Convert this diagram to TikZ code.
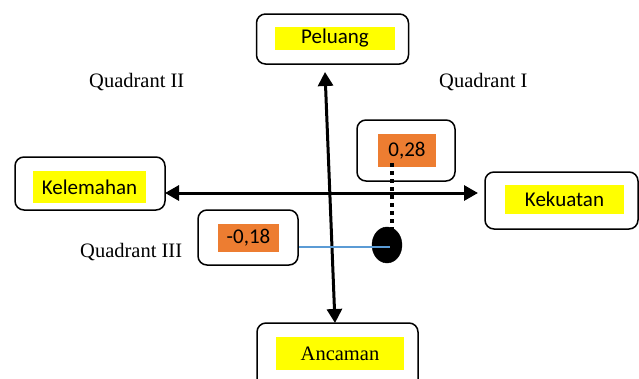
\documentclass[tikz,border=0pt]{standalone}
\usepackage{fontspec}
\setmainfont{Liberation Serif}
\newfontfamily\calibrilike{Carlito}
\usetikzlibrary{arrows.meta,shapes.geometric}
\definecolor{markyellow}{HTML}{FFFF00}
\definecolor{valorange}{HTML}{ED7D31}
\definecolor{guideblue}{HTML}{5B9BD5}
\tikzset{
  frame/.style={draw=black, line width=1.5pt, rounded corners=9pt, fill=white, inner sep=0pt},
  tag/.style={fill=markyellow, inner sep=0pt, font=\calibrilike\fontsize{21}{24}\selectfont},
  serifTag/.style={fill=markyellow, inner sep=0pt, font=\fontsize{20.5}{24}\selectfont},
  valtag/.style={fill=valorange, inner sep=0pt, font=\calibrilike\fontsize{21}{24}\selectfont},
  quad/.style={anchor=base west, inner sep=0pt, font=\fontsize{20.5}{24}\selectfont},
  axis/.style={line width=3pt, {Triangle[length=14pt,width=15pt]}-{Triangle[length=14pt,width=15pt]}},
}
\begin{document}
\begin{tikzpicture}[x=1pt,y=-1pt]
\useasboundingbox (0,0) rectangle (639,378);
\clip (0,0) rectangle (639,378);

% outer frames of the four directions
\node[frame, minimum width=152pt, minimum height=50pt] (peluang) at (332.5,39) {};
\node[frame, minimum width=150pt, minimum height=53pt] (kelemahan) at (90,183.5) {};
\node[frame, minimum width=153pt, minimum height=57pt] (kekuatan) at (561.5,200.5) {};
\node[frame, minimum width=161pt, minimum height=80pt] (ancaman) at (337.5,363) {};

% highlighted labels
\node[tag, minimum width=120pt, minimum height=23pt] (peluangtxt) at (335,38.5) {Peluang};
\node[tag, minimum width=113pt, minimum height=32pt] (kelemahantxt) at (89.5,187) {Kelemahan};
\node[tag, minimum width=119pt, minimum height=29pt] (kekuatantxt) at (564.5,199.5) {Kekuatan};
\node[serifTag, minimum width=128pt, minimum height=33pt] (ancamantxt) at (340,353.5) {Ancaman};

% axes
\coordinate (xl) at (165,193);
\coordinate (xr) at (478,193);
\coordinate (yt) at (325,72);
\coordinate (yb) at (335,323);
\draw[axis] (xl) -- (xr);
\draw[axis] (yt) -- (yb);

% value boxes
\node[frame, minimum width=98pt, minimum height=61pt] (pos) at (406,150.5) {};
\node[valtag, minimum width=58pt, minimum height=33pt] (postxt) at (407,150.5) {0,28};
\node[frame, minimum width=100pt, minimum height=55pt] (neg) at (248,237.5) {};
\node[valtag, minimum width=61pt, minimum height=28pt] (negtxt) at (248.5,238) {-0,18};

% position marker
\coordinate (dtop) at (392,163);
\coordinate (dbot) at (392,230);
\draw[line width=4pt, dash pattern=on 4pt off 4pt] (dtop) -- (dbot);
\node[draw=black, fill=black, ellipse, minimum width=30pt, minimum height=36pt, inner sep=0pt] (dot) at (387,245) {};
\coordinate (dotc) at (390,247);
\draw[guideblue, line width=1.3pt] (neg.east |- dotc) -- (dotc);

% quadrant labels
\node[quad] (q2) at (89,87) {Quadrant II};
\node[quad] (q1) at (439,87) {Quadrant I};
\node[quad] (q3) at (80,257) {Quadrant III};
\end{tikzpicture}
\end{document}
